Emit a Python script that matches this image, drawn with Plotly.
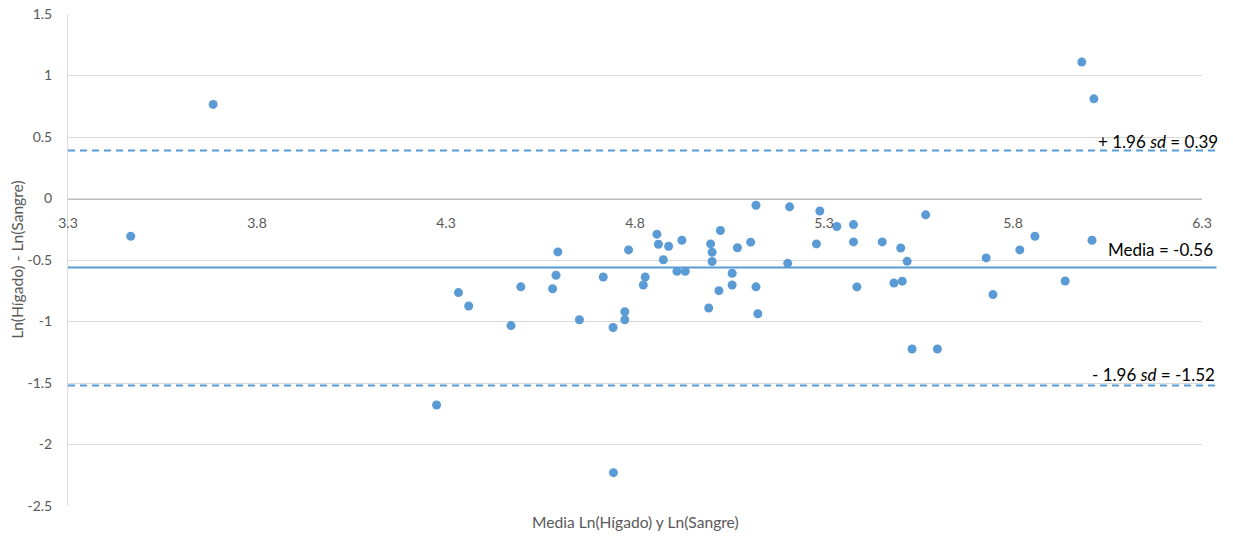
import plotly.graph_objects as go

# Mean of the two log measurements (x) and their difference (y), one per sample
media_ln = [
    3.466, 3.684, 4.275, 4.333, 4.360, 4.472, 4.498, 4.596, 4.591, 4.582,
    4.653, 4.716, 4.742, 4.743, 4.773, 4.773, 4.783, 4.827, 4.822, 4.858,
    4.862, 4.889, 4.875, 4.924, 4.911, 4.933, 5.000, 5.004, 5.004, 4.995,
    5.026, 5.022, 5.071, 5.057, 5.057, 5.106, 5.120, 5.120, 5.125, 5.209,
    5.204, 5.289, 5.280, 5.334, 5.378, 5.378, 5.387, 5.454, 5.503, 5.520,
    5.485, 5.507, 5.569, 5.533, 5.600, 5.729, 5.747, 5.818, 5.858, 5.938,
    6.009, 5.982, 6.014,
]
diferencia_ln = [
    -0.307, 0.765, -1.679, -0.765, -0.874, -1.033, -0.718, -0.434, -0.624, -0.734,
    -0.986, -0.638, -1.049, -2.229, -0.921, -0.986, -0.418, -0.638, -0.703, -0.290,
    -0.372, -0.388, -0.498, -0.339, -0.592, -0.592, -0.369, -0.437, -0.512, -0.890,
    -0.260, -0.749, -0.400, -0.608, -0.703, -0.355, -0.055, -0.718, -0.937, -0.068,
    -0.527, -0.102, -0.369, -0.228, -0.212, -0.353, -0.719, -0.353, -0.402, -0.511,
    -0.687, -0.672, -0.133, -1.224, -1.224, -0.483, -0.781, -0.418, -0.307, -0.671,
    -0.339, 1.109, 0.810,
]

# Bias and limits of agreement
media_dif = -0.56
limite_sup = 0.39
limite_inf = -1.52

# Axis ticks
x_ticks = [3.3, 3.8, 4.3, 4.8, 5.3, 5.8, 6.3]
y_ticks = [1.5, 1, 0.5, 0, -0.5, -1, -1.5, -2, -2.5]

x_range = [3.3, 6.3]
y_range = [-2.5, 1.5]

BLUE = "#5b9bd5"
GRID = "#d9d9d9"
AXIS = "#bfbfbf"
TICK_FONT = dict(family="Lato, Carlito, sans-serif", size=14, color="#595959")
TITLE_FONT = dict(family="Lato, Carlito, sans-serif", size=15.6, color="#595959")
LABEL_FONT = dict(family="Lato, Carlito, sans-serif", size=17, color="#000000")

fig = go.Figure()

fig.add_trace(go.Scatter(
    x=media_ln, y=diferencia_ln, mode="markers",
    marker=dict(color=BLUE, size=9, line=dict(width=0)),
    showlegend=False, hoverinfo="x+y",
))

# Horizontal reference lines, running slightly past the plot's right edge
line_end = 1.0128
for val, dash in [(limite_sup, "7px,5px"), (media_dif, "solid"), (limite_inf, "7px,5px")]:
    fig.add_shape(type="line", xref="paper", yref="y", x0=0, x1=line_end,
                  y0=val, y1=val, line=dict(color=BLUE, width=2, dash=dash),
                  layer="above")

# Line labels
labels = [
    (f"+ 1.96 <i>sd</i> = {limite_sup:.2f}", 0.46, 1.0163),
    (f"Media = {media_dif:.2f}", -0.415, 1.0118),
    (f"- 1.96 <i>sd</i> = {limite_inf:.2f}", -1.432, 1.0136),
]
for text, ypos, xpos in labels:
    fig.add_annotation(text=text, xref="paper", yref="y", x=xpos, y=ypos,
                       xanchor="right", yanchor="middle", showarrow=False,
                       font=LABEL_FONT)

# Axis titles
fig.add_annotation(text="Media Ln(Hígado) y Ln(Sangre)", xref="paper", yref="paper",
                   x=0.5, y=-0.0327, xanchor="center", yanchor="middle",
                   showarrow=False, font=TITLE_FONT)
fig.add_annotation(text="Ln(Hígado) - Ln(Sangre)", xref="paper", yref="paper",
                   x=-0.0451, y=0.5, xanchor="center", yanchor="middle",
                   textangle=-90, showarrow=False, font=TITLE_FONT)

# x axis crosses the y axis at zero
x_cross = (0 - y_range[0]) / (y_range[1] - y_range[0])

fig.update_layout(
    width=1233, height=536,
    margin=dict(l=68, r=31, t=14, b=30, autoexpand=False),
    paper_bgcolor="white", plot_bgcolor="white",
    xaxis=dict(
        range=x_range, tickvals=x_ticks, ticktext=[f"{v:.1f}" for v in x_ticks],
        showgrid=False, zeroline=False, showline=True, linecolor=AXIS, linewidth=1,
        anchor="free", position=x_cross, ticks="", tickfont=TICK_FONT,
        ticklabelstandoff=12, automargin=False,
    ),
    yaxis=dict(
        range=y_range, tickvals=y_ticks, ticktext=[f"{v:g}" for v in y_ticks],
        showgrid=True, gridcolor=GRID, gridwidth=1, zeroline=False,
        showline=True, linecolor=GRID, linewidth=1, ticks="", tickfont=TICK_FONT,
        ticklabelstandoff=12, automargin=False,
    ),
)

fig.write_html("out.html")
